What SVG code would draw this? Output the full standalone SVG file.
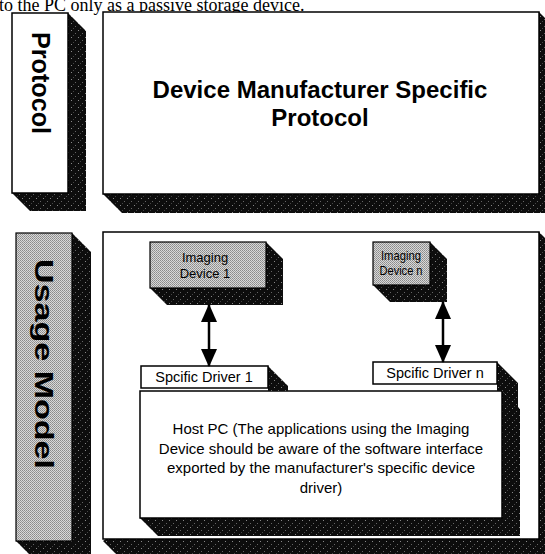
<svg xmlns="http://www.w3.org/2000/svg" width="545" height="554" viewBox="0 0 545 554">
<defs>
<pattern id="noise" width="7" height="7" patternUnits="userSpaceOnUse">
<rect width="7" height="7" fill="#0d0d0d"/>
<rect x="1" y="2" width="1" height="1" fill="#888"/>
<rect x="5" y="5" width="1" height="1" fill="#666"/>
<rect x="3" y="0" width="1" height="1" fill="#444"/>
</pattern>
<pattern id="half" width="2" height="2" patternUnits="userSpaceOnUse">
<rect width="2" height="2" fill="#d8d8d8"/>
<rect width="1" height="1" fill="#8a8a8a"/>
<rect x="1" y="1" width="1" height="1" fill="#9a9a9a"/>
</pattern>
<marker id="ah" viewBox="0 0 18 16" refX="17" refY="8" markerWidth="18" markerHeight="16" markerUnits="userSpaceOnUse" orient="auto-start-reverse">
<path d="M0,0 L18,8 L0,16 Z" fill="#000"/>
</marker>
</defs>
<style>
.box{fill:#fff;stroke:#000;stroke-width:1.5}
.gray{fill:url(#half);stroke:#000;stroke-width:1.2}
.sh{fill:url(#noise)}
.lbl{font-family:"Liberation Sans",Arial,sans-serif;font-weight:bold;fill:#000}
.t{font-family:"Liberation Sans",Arial,sans-serif;font-size:13px;fill:#000;text-anchor:middle}
.h{font-size:15px}
.d{font-size:14.5px}
.conn{stroke:#000;stroke-width:2.5;fill:none}
</style>

<text x="-1" y="11" font-family="Liberation Serif, Times New Roman, serif" font-size="18">to the PC only as a passive storage device.</text>

<g id="protocol-label">
<polygon class="sh" points="68,13 86,31 86,211 30,211 12,193"/>
<rect class="box" x="12" y="13" width="56" height="180"/>
<text class="lbl" font-size="25" text-anchor="middle" transform="translate(40,83) rotate(90)" dy="8" textLength="102" lengthAdjust="spacingAndGlyphs">Protocol</text>
</g>

<g id="protocol-box">
<polygon class="sh" points="539,12 558,31 558,213 122,213 103,194"/>
<rect class="box" x="103" y="12" width="436" height="182"/>
<text class="lbl" font-size="24" text-anchor="middle" x="320" y="98">Device Manufacturer Specific</text>
<text class="lbl" font-size="24" text-anchor="middle" x="320" y="126">Protocol</text>
</g>

<g id="usage-label">
<polygon class="sh" points="72,233 91,252 91,560 35,560 16,541"/>
<rect class="gray" x="16" y="233" width="56" height="308"/>
<text class="lbl" font-size="26" text-anchor="middle" transform="translate(44,364) rotate(90)" dy="9" textLength="210" lengthAdjust="spacingAndGlyphs">Usage Model</text>
</g>

<g id="usage-box">
<polygon class="sh" points="539,232 558,251 558,560 122,560 103,541"/>
<rect class="box" x="103" y="232" width="436" height="307"/>
</g>

<g id="imaging-device-1">
<polygon class="sh" points="266,242 283,259 283,305 167,305 150,288"/>
<rect class="gray" x="150" y="242" width="116" height="46"/>
<text class="t" x="205" y="262">Imaging</text>
<text class="t" x="205" y="278">Device 1</text>
</g>

<g id="imaging-device-n">
<polygon class="sh" points="430,242 447,259 447,302 390,302 373,285"/>
<rect class="gray" x="373" y="242" width="57" height="43"/>
<text class="t" x="401" y="260" textLength="40" lengthAdjust="spacingAndGlyphs">Imaging</text>
<text class="t" x="401" y="275" textLength="43" lengthAdjust="spacingAndGlyphs">Device n</text>
</g>

<g id="host-pc">
<polygon class="sh" points="502,391 520,409 520,536 158,536 140,518"/>
<rect class="box" x="140" y="391" width="362" height="127"/>
<text class="t h" x="321" y="434">Host PC (The applications using the Imaging</text>
<text class="t h" x="321" y="453.5">Device should be aware of the software interface</text>
<text class="t h" x="321" y="473">exported by the manufacturer's specific device</text>
<text class="t h" x="321" y="492.5">driver)</text>
</g>

<g id="driver-1">
<polygon class="sh" points="268,366 288,386 288,391 268,391"/>
<rect class="box" x="141" y="366" width="127" height="22"/>
<text class="t d" x="204" y="382">Spcific Driver 1</text>
</g>

<g id="driver-n">
<polygon class="sh" points="497,362 518,383 518,409 502,391 497,391"/>
<rect class="box" x="373" y="362" width="124" height="22"/>
<text class="t d" x="435" y="378">Spcific Driver n</text>
</g>

<g id="connectors">
<line class="conn" x1="209" y1="305" x2="209" y2="366" marker-start="url(#ah)" marker-end="url(#ah)"/>
<line class="conn" x1="443" y1="302" x2="443" y2="362" marker-start="url(#ah)" marker-end="url(#ah)"/>
</g>
</svg>
